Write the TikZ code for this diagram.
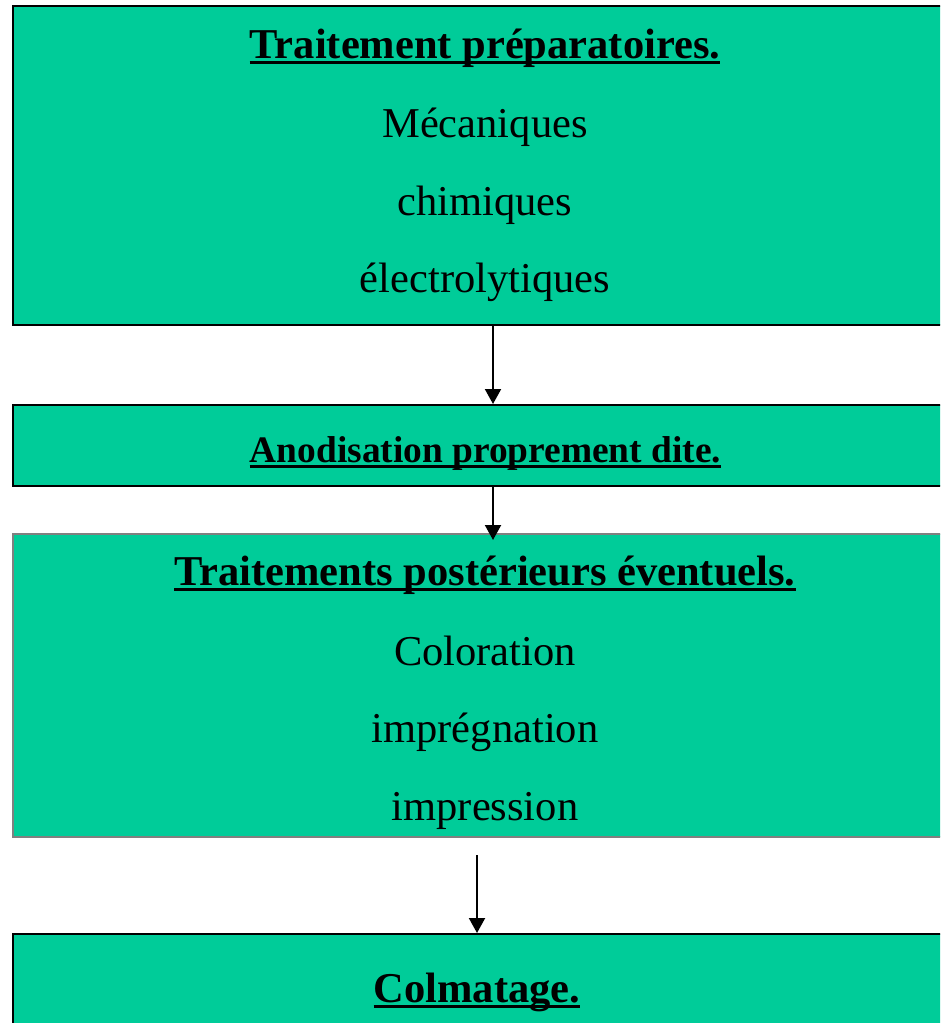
\documentclass[tikz,border=0pt]{standalone}
\usepackage{fontspec}
\setmainfont{Liberation Serif}
\usetikzlibrary{arrows.meta}
\definecolor{boxgreen}{RGB}{0,204,153}
\definecolor{boxgray}{RGB}{128,128,128}
\begin{document}
\begin{tikzpicture}[x=1pt,y=1pt,
  box/.style={draw=black,line width=2pt,fill=boxgreen,rectangle,inner sep=0pt},
  graybox/.style={box,draw=boxgray},
  big/.style={font=\fontsize{42.5}{50}\selectfont,inner sep=0pt,anchor=base},
  bigb/.style={font=\fontsize{42.5}{50}\selectfont\bfseries,inner sep=0pt,anchor=base},
  midb/.style={font=\fontsize{37.4}{44}\selectfont\bfseries,inner sep=0pt,anchor=base},
  uline/.style={line width=2.4pt},
  arrow/.style={line width=2pt,-{Triangle[length=15pt,width=16pt]}}]
\useasboundingbox (0,0) rectangle (940,-1023);
\clip (0,0) rectangle (940,-1023);
% boxes
\node[box,minimum width=944pt,minimum height=319pt] (b1) at (485,-165.5) {};
\node[box,minimum width=944pt,minimum height=81pt] (b2) at (485,-445.5) {};
\node[graybox,minimum width=944pt,minimum height=303pt] (b3) at (485,-685.5) {};
\node[box,minimum width=944pt,minimum height=160pt] (b4) at (485,-1014) {};
% texts
\node[bigb] (t1) at (485,-58) {Traitement préparatoires.};
\node[big] (t1a) at (485,-137) {Mécaniques};
\node[big] (t1b) at (485,-215) {chimiques};
\node[big] (t1c) at (485,-292) {électrolytiques};
\node[midb] (t2) at (485.5,-462) {Anodisation proprement dite.};
\node[bigb] (t3) at (485,-585) {Traitements postérieurs éventuels.};
\node[big] (t3a) at (485,-665) {Coloration};
\node[big] (t3b) at (485,-742) {imprégnation};
\node[big] (t3c) at (485,-820) {impression};
\node[bigb] (t4) at (477,-1002) {Colmatage.};
% underlines
\foreach \t in {t1,t2,t3,t4}
  \draw[uline] ([yshift=-4.5pt]\t.base west) -- ([yshift=-4.5pt]\t.base east);
% connectors
\coordinate (xa) at (493,0);
\coordinate (xc) at (477,0);
\draw[arrow] (b1.south -| xa) -- (b2.north -| xa);
\draw[arrow] (b2.south -| xa) -- ([yshift=-7pt]b3.north -| xa);
\draw[arrow] ([yshift=-17pt]b3.south -| xc) -- (b4.north -| xc);
\end{tikzpicture}
\end{document}
